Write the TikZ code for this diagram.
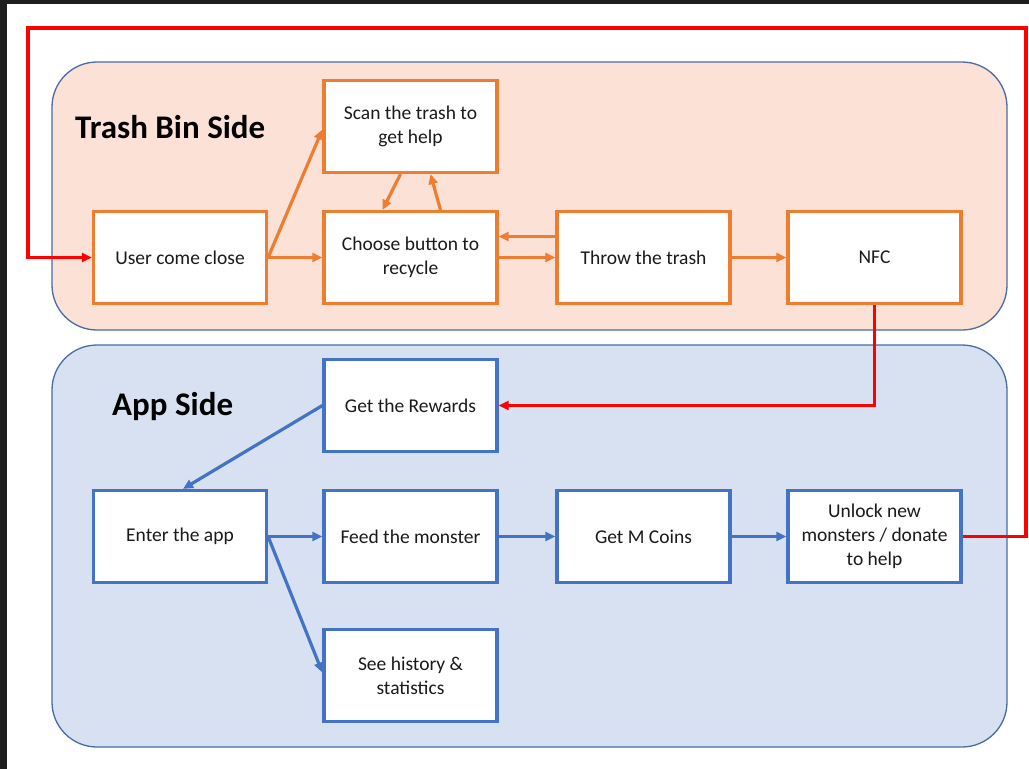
\documentclass[tikz,border=0pt]{standalone}
\usepackage{fontspec}
\setmainfont{Carlito}
\usetikzlibrary{arrows.meta,calc}
\definecolor{trashfill}{HTML}{FBE1D6}
\definecolor{appfill}{HTML}{D8E1F1}
\definecolor{panelline}{HTML}{4A6CA3}
\definecolor{orangeC}{HTML}{ED7D31}
\definecolor{blueC}{HTML}{4472C4}
\definecolor{redC}{HTML}{FF0000}
\definecolor{txt}{HTML}{1A1A1A}
\definecolor{darkedge}{HTML}{1E1E1E}
\tikzset{
  panel/.style={draw=panelline,line width=1.3pt,rounded corners=45pt},
  obox/.style={draw=orangeC,fill=white,line width=3.2pt,minimum width=173pt,minimum height=92pt,align=center,text=txt,font=\fontsize{19.5}{24}\selectfont,inner sep=2pt},
  bbox/.style={obox,draw=blueC},
  oarr/.style={draw=orangeC,line width=3.2pt,-{Triangle[length=10pt,width=9pt]}},
  barr/.style={draw=blueC,line width=3.2pt,-{Triangle[length=10pt,width=9pt]}},
  rarr/.style={draw=redC,line width=3.4pt,-{Triangle[length=10pt,width=9pt]}},
  title/.style={anchor=west,font=\fontsize{33}{38}\selectfont\bfseries,text=black,inner sep=0pt}
}
\begin{document}
\begin{tikzpicture}[x=1pt,y=-1pt]
\useasboundingbox (0,0) rectangle (1029,769);
\fill[white] (0,0) rectangle (1029,769);
\fill[darkedge] (0,0) rectangle (1029,4);
\fill[darkedge] (0,0) rectangle (7,769);
% panels
\draw[panel,fill=trashfill] (52,62) rectangle (1007,330);
\draw[panel,fill=appfill] (52,345) rectangle (1007,747);
\node[title] (ttl1) at (75,127) {Trash Bin Side};
\node[title] (ttl2) at (112,407) {App Side};
% trash side
\node[obox] (user) at (180,257.5) {User come close};
\node[obox] (scan) at (410.5,126.5) {Scan the trash to\\get help};
\node[obox] (choose) at (410.5,257.5) {Choose button to\\recycle};
\node[obox] (throw) at (643.5,257.5) {Throw the trash};
\node[obox] (nfc) at (874.5,257.5) {NFC};
% app side
\node[bbox] (rewards) at (410.5,405.5) {Get the Rewards};
\node[bbox] (enter) at (180,536.5) {Enter the app};
\node[bbox] (feed) at (410.5,536.5) {Feed the monster};
\node[bbox] (coins) at (643.5,536.5) {Get M Coins};
\node[bbox] (unlock) at (874.5,536.5) {Unlock new\\monsters / donate\\to help};
\node[bbox] (history) at (410.5,675.5) {See history \&\\statistics};
% orange arrows
\draw[oarr] (user.east) -- (choose.west);
\draw[oarr] (user.east) -- ([yshift=-3pt]scan.west);
\draw[oarr] ([xshift=-10pt]scan.south) -- ([xshift=-28pt]choose.north);
\draw[oarr] ([xshift=30pt]choose.north) -- ([xshift=20pt]scan.south);
\draw[oarr] ([yshift=21pt]throw.west) -- ([yshift=21pt]choose.east);
\draw[oarr] (choose.east) -- (throw.west);
\draw[oarr] (throw.east) -- (nfc.west);
% red arrows
\coordinate (r1) at (1026,28);
\coordinate (r2) at (28,28);
\draw[rarr] (nfc.south) |- (rewards.east);
\draw[rarr] (unlock.east) -| (r1) -- (r2) |- (user.west);
% blue arrows
\draw[barr] (rewards.west) -- ([xshift=3pt]enter.north);
\draw[barr] (enter.east) -- (feed.west);
\draw[barr] (enter.east) -- ([yshift=3pt]history.west);
\draw[barr] (feed.east) -- (coins.west);
\draw[barr] (coins.east) -- (unlock.west);
\end{tikzpicture}
\end{document}
